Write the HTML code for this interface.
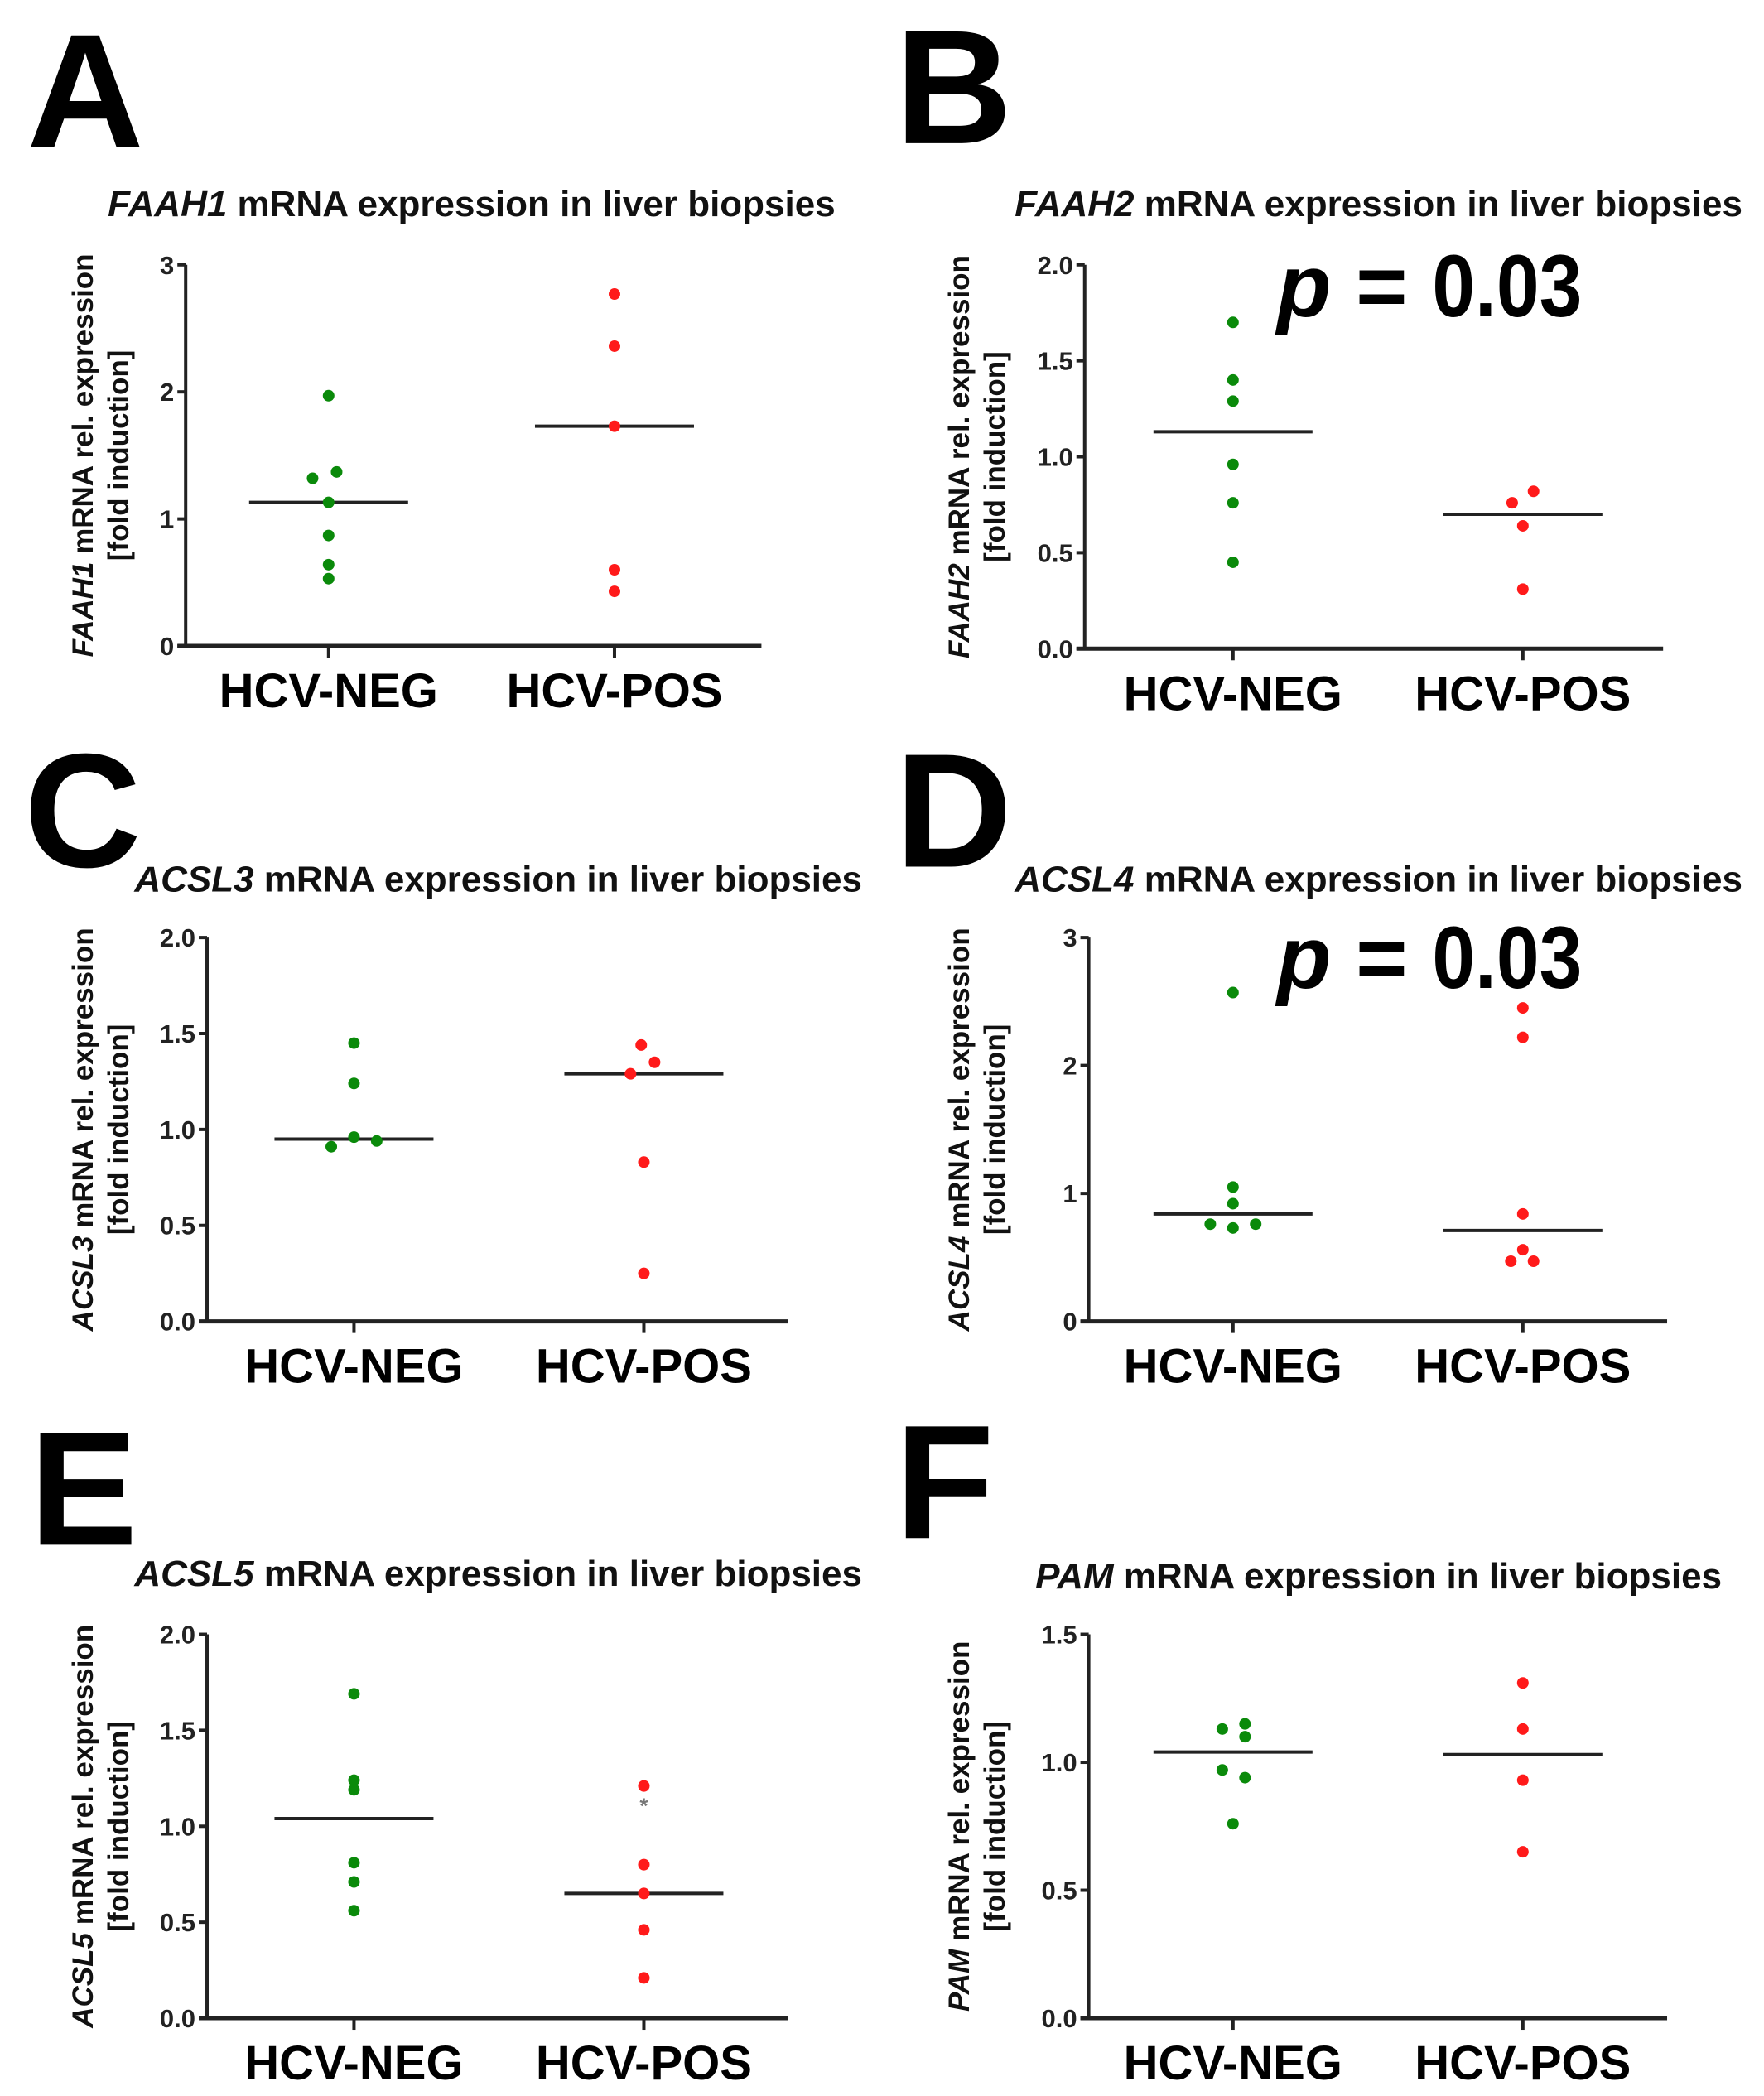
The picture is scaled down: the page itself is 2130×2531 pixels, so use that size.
<!DOCTYPE html>
<html><head><meta charset="utf-8"><style>
html,body{margin:0;padding:0;background:#fff;}
svg{display:block;font-family:"Liberation Sans",Arial,sans-serif;}
</style></head><body>
<svg id="fig" width="2130" height="2531" viewBox="0 0 2130 2531" xmlns="http://www.w3.org/2000/svg"></svg>
<script>
// ---- data ----
const categories = ["HCV-NEG", "HCV-POS"];
const panelLetters = ["A","B","C","D","E","F"];
const genes = ["FAAH1","FAAH2","ACSL3","ACSL4","ACSL5","PAM"];
const yMaxes = [3, 2, 2, 3, 2, 1.5];
const tickLabelsA = ["0","1","2","3"];
const tickLabelsB = ["0.0","0.5","1.0","1.5","2.0"];
const tickLabelsC = ["0.0","0.5","1.0","1.5","2.0"];
const tickLabelsD = ["0","1","2","3"];
const tickLabelsE = ["0.0","0.5","1.0","1.5","2.0"];
const tickLabelsF = ["0.0","0.5","1.0","1.5"];
const negA = [1.97, 1.32, 1.37, 1.13, 0.87, 0.64, 0.53];
const posA = [2.77, 2.36, 1.73, 0.60, 0.43];
const negB = [1.70, 1.40, 1.29, 0.96, 0.76, 0.45];
const posB = [0.82, 0.76, 0.64, 0.31];
const negC = [1.45, 1.24, 0.96, 0.94, 0.91];
const posC = [1.44, 1.35, 1.29, 0.83, 0.25];
const negD = [2.57, 1.05, 0.92, 0.76, 0.76, 0.73];
const posD = [2.45, 2.22, 0.84, 0.56, 0.47, 0.47];
const negE = [1.69, 1.24, 1.19, 0.81, 0.71, 0.56];
const posE = [1.21, 0.80, 0.65, 0.46, 0.21];
const negF = [1.15, 1.13, 1.10, 0.97, 0.94, 0.76];
const posF = [1.31, 1.13, 0.93, 0.65];
const medNeg = [1.13, 1.13, 0.95, 0.84, 1.04, 1.04];
const medPos = [1.73, 0.70, 1.29, 0.71, 0.65, 1.03];
const pValues = ["", "0.03", "", "0.03", "", ""];
// jitter offsets (in overview px) for overlapping dots
const jitNeg = [[0,-12,6,0,0,0,0],[0,0,0,0,0,0],[0,0,0,17,-17],[0,0,0,-17,17,0],[0,0,0,0,0,0],[9,-8,9,-8,9,0]];
const jitPos = [[0,0,0,0,0],[8,-8,0,0],[-2,8,-10,0,0],[0,0,0,0,-9,8],[0,0,0,0,0],[0,0,0,0]];

const negs=[negA,negB,negC,negD,negE,negF], poss=[posA,posB,posC,posD,posE,posF];
const ticks=[tickLabelsA,tickLabelsB,tickLabelsC,tickLabelsD,tickLabelsE,tickLabelsF];

// layout (overview coords -> actual)
const SX=1.613, SY=1.615;
const layout=[
 {ax:139,top:198,zero:483,xend:570,t1:246,t2:460,title:353,ty:153,yl:62,letX:20,letY:110},
 {ax:812,top:198,zero:485,xend:1245,t1:923,t2:1140,title:1032,ty:153,yl:718,letX:670,letY:107},
 {ax:155,top:701,zero:988,xend:590,t1:265,t2:482,title:373,ty:658,yl:62,letX:18,letY:648},
 {ax:815,top:701,zero:988,xend:1248,t1:923,t2:1140,title:1032,ty:658,yl:718,letX:670,letY:648},
 {ax:155,top:1222,zero:1509,xend:590,t1:265,t2:482,title:373,ty:1177,yl:62,letX:22,letY:1155},
 {ax:815,top:1222,zero:1509,xend:1248,t1:923,t2:1140,title:1032,ty:1179,yl:718,letX:670,letY:1150}
];
const pBaselines=[0,382,0,1193,0,0];
const NS="http://www.w3.org/2000/svg";
const svg=document.getElementById('fig');
function mk(tag,attrs,parent){const e=document.createElementNS(NS,tag);for(const k in attrs)e.setAttribute(k,attrs[k]);(parent||svg).appendChild(e);return e;}

layout.forEach((L,i)=>{
  const g=mk('g',{});
  
  
  const ax=L.ax*SX, top=L.top*SY, zero=L.zero*SY, xend=L.xend*SX;
  const yS=v=>zero-(v/yMaxes[i])*(zero-top);
  const xC=[L.t1*SX,L.t2*SX];
  const let_=mk('text',{x:L.letX*SX,y:L.letY*SY,'font-size':196,'font-weight':'bold',fill:'#000'},g);
  let_.textContent=panelLetters[i];
  
  
  const tt=mk('text',{x:L.title*SX,y:L.ty*SY+14,'font-size':44,'font-weight':'bold','text-anchor':'middle',fill:'#111'},g);
  tt.innerHTML='<tspan font-style="italic">'+genes[i]+'</tspan> mRNA expression in liver biopsies';
  
  
  const cy=(top+zero)/2;
  const yt=mk('text',{transform:`translate(${L.yl*SX+12},${cy}) rotate(-90)`,'font-size':35,'font-weight':'bold','text-anchor':'middle',fill:'#111'},g);
  yt.innerHTML='<tspan font-style="italic">'+genes[i]+'</tspan> mRNA rel. expression';
  
  
  const yt2=mk('text',{transform:`translate(${L.yl*SX+55},${cy}) rotate(-90)`,'font-size':35,'font-weight':'bold','text-anchor':'middle',fill:'#111'},g);
  yt2.textContent='[fold induction]';
  
  
  const ya=mk('line',{x1:ax,y1:top,x2:ax,y2:zero,stroke:'#222','stroke-width':4},g);
  
  
  const xa=mk('line',{x1:ax-10,y1:zero,x2:xend,y2:zero,stroke:'#222','stroke-width':5},g);
  
  
  const tl=ticks[i];
  tl.forEach((lab,k)=>{
    const v=yMaxes[i]*k/(tl.length-1), y=yS(v);
    mk('line',{x1:ax-10,y1:y,x2:ax,y2:y,stroke:'#222','stroke-width':4},g);
    const t=mk('text',{x:ax-14,y:y+11,'font-size':31,'font-weight':'bold','text-anchor':'end',fill:'#222'},g);
    t.textContent=lab;
    
    
  });
  categories.forEach((c,k)=>{
    mk('line',{x1:xC[k],y1:zero,x2:xC[k],y2:zero+14,stroke:'#222','stroke-width':4},g);
    const t=mk('text',{x:xC[k],y:zero+74,'font-size':58,'font-weight':'bold','text-anchor':'middle',fill:'#000'},g);
    t.textContent=c;
    
    
  });
  [medNeg[i],medPos[i]].forEach((m,k)=>{
    const l=mk('line',{x1:xC[k]-96,y1:yS(m),x2:xC[k]+96,y2:yS(m),stroke:'#222','stroke-width':4},g);
    
    
  });
  negs[i].forEach((v,k)=>{
    const d=mk('circle',{cx:xC[0]+jitNeg[i][k]*SX,cy:yS(v),r:7,fill:'#0a8a0a'},g);
    
    
  });
  poss[i].forEach((v,k)=>{
    const d=mk('circle',{cx:xC[1]+jitPos[i][k]*SX,cy:yS(v),r:7,fill:'#ff1a1a'},g);
    
    
  });
  if(pValues[i]){
    const p=mk('text',{x:1542,y:pBaselines[i],'font-size':107,'font-weight':'bold',fill:'#000'},g);
    p.innerHTML='<tspan font-style="italic">p</tspan> = <tspan textLength="181" lengthAdjust="spacingAndGlyphs">'+pValues[i]+'</tspan>';
    
    
  }
  if(i===4){
    const a=mk('text',{x:xC[1],y:yS(1.12)+12,'font-size':26,'font-weight':'bold','text-anchor':'middle',fill:'#777'},g);
    a.textContent='*';
    
    
  }
});
</script>
</body></html>
